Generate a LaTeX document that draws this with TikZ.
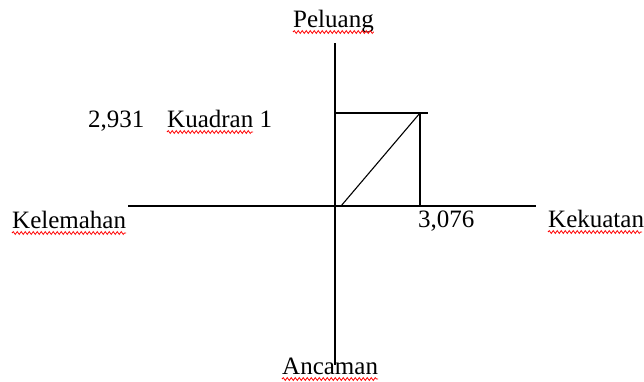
\documentclass[tikz,border=0pt]{standalone}
\usepackage{fontspec}
\setmainfont{Liberation Serif}
\usetikzlibrary{decorations.pathmorphing,calc}
\begin{document}
\begin{tikzpicture}[x=1pt,y=-1pt,
  lbl/.style={inner sep=0pt,anchor=base west,font=\fontsize{25}{30}\selectfont},
  axis/.style={line width=1.3pt,black},
  squig/.style={red,line width=0.8pt,decorate,decoration={snake,amplitude=1.4pt,segment length=4pt}}]
\useasboundingbox (0,0) rectangle (644,381);
% coordinates
\coordinate (vtop) at (335,43);
\coordinate (vbot) at (335,365);
\coordinate (hleft) at (128,206);
\coordinate (hright) at (536,206);
\coordinate (rtl) at (335,113);
\coordinate (rtr) at (428,113);
\coordinate (rtop) at (420,113);
\coordinate (rbot) at (420,206);
\coordinate (dstart) at (341,206);
% axes
\draw[axis] (vtop) -- (vbot);
\draw[axis] (hleft) -- (hright);
\draw[axis] (rtl) -- (rtr);
\draw[axis] (rtop) -- (rbot);
\draw[line width=1.1pt] (dstart) -- (rtop);
% labels
\node[lbl] (peluang) at (293,27) {Peluang};
\node[lbl] (num1) at (88,127) {2,931};
\node[lbl] (kuadran) at (167,127) {Kuadran 1};
\node[lbl] (kelemahan) at (12,228) {Kelemahan};
\node[lbl] (num2) at (418,227) {3,076};
\node[lbl] (kekuatan) at (548,227) {Kekuatan};
\node[lbl] (ancaman) at (282,374) {Ancaman};
% spell-check squiggles
\draw[squig] ($(peluang.base west)+(0,5)$) -- ($(peluang.base east)+(0,5)$);
\draw[squig] ($(kuadran.base west)+(0,5)$) -- ($(kuadran.base west)+(86,5)$);
\draw[squig] ($(kelemahan.base west)+(0,5)$) -- ($(kelemahan.base east)+(0,5)$);
\draw[squig] ($(kekuatan.base west)+(0,5)$) -- ($(kekuatan.base east)+(-2,5)$);
\draw[squig] ($(ancaman.base west)+(0,5)$) -- ($(ancaman.base east)+(0,5)$);
\end{tikzpicture}
\end{document}
